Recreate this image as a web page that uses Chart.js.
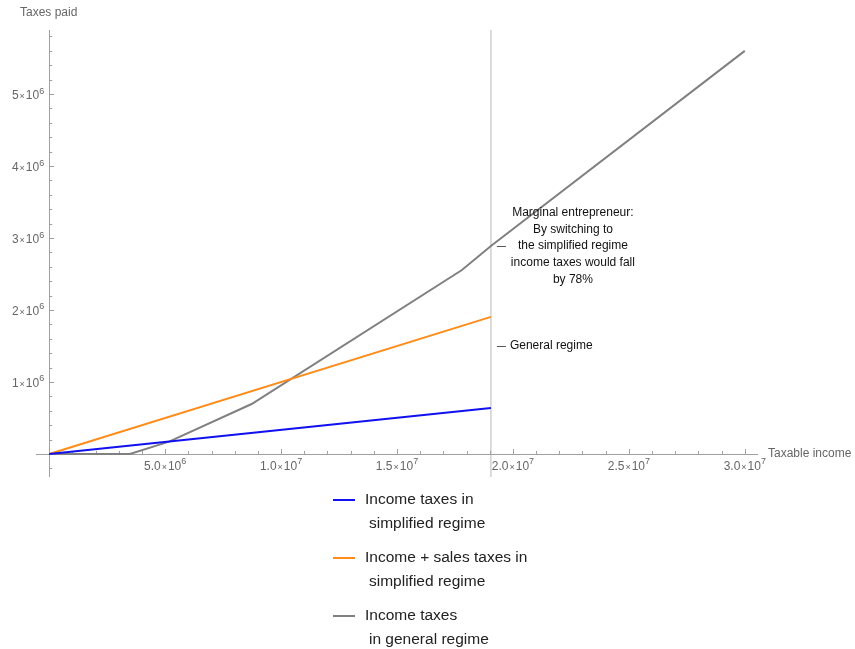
<!DOCTYPE html>
<html>
<head>
<meta charset="utf-8">
<script src="https://cdn.jsdelivr.net/npm/chart.js@4"></script>
<style>
  body { margin: 0; background: #fff; }
  #wrap { position: relative; width: 855px; height: 649px; }
  canvas { position: absolute; left: 0; top: 0; }
  .swatch { position: absolute; width: 22px; height: 0; border-top: 2px solid; }
  .ltext { position: absolute; font: 15.5px "Liberation Sans", Arial, sans-serif; color: #222; line-height: 18px; white-space: nowrap; }
</style>
</head>
<body>
<div id="wrap">
  <canvas id="taxChart" width="855" height="649"></canvas>
  <div id="legend"></div>
</div>
<script>
// income in roubles, taxes in roubles
const simplifiedIncome = [0, 19.05e6];
const simplifiedTax = [0, 0.64e6];

const simplifiedSalesIncome = [0, 19.05e6];
const simplifiedSalesTax = [0, 1.905e6];

const generalIncome = [0, 3.48e6, 5.17e6, 8.73e6, 17.8e6, 19.05e6, 30.0e6];
const generalTax = [0, 0, 0.171e6, 0.694e6, 2.556e6, 2.889e6, 5.6e6];

const marginalIncome = 19.05e6;
const generalRegimeMark = 1.5e6;

const xTickValues = [5e6, 1e7, 1.5e7, 2e7, 2.5e7, 3e7];
const xTickMantissas = ["5.0", "1.0", "1.5", "2.0", "2.5", "3.0"];
const xTickExponents = ["6", "7", "7", "7", "7", "7"];

const yTickValues = [1e6, 2e6, 3e6, 4e6, 5e6];
const yTickMantissas = ["1", "2", "3", "4", "5"];
const yTickExponents = ["6", "6", "6", "6", "6"];

const seriesNames = [
  ["Income taxes in", "simplified regime"],
  ["Income + sales taxes in", "simplified regime"],
  ["Income taxes", "in general regime"]
];
const seriesColors = ["#1010f0", "#ff8c1a", "#808080"];

const noteLines = [
  "Marginal entrepreneur:",
  "By switching to",
  "the simplified regime",
  "income taxes would fall",
  "by 78%"
];

function toPoints(xs, ys) {
  return xs.map((x, i) => ({ x: x, y: ys[i] }));
}

const FONT = '"Liberation Sans", Arial, sans-serif';

function sciWidth(ctx, mant, exp) {
  ctx.font = "12px " + FONT;
  let w = ctx.measureText(mant).width + ctx.measureText("10").width;
  ctx.font = "9px " + FONT;
  w += ctx.measureText("\u00d7").width + 2 + ctx.measureText(exp).width;
  return w;
}

function drawSci(ctx, mant, exp, x, y) {
  // x is left edge, y is middle of the main text
  ctx.textBaseline = "middle";
  ctx.textAlign = "left";
  ctx.font = "12px " + FONT;
  ctx.fillText(mant, x, y);
  x += ctx.measureText(mant).width + 1;
  ctx.font = "9px " + FONT;
  ctx.fillText("\u00d7", x, y + 0.5);
  x += ctx.measureText("\u00d7").width + 1;
  ctx.font = "12px " + FONT;
  ctx.fillText("10", x, y);
  x += ctx.measureText("10").width;
  ctx.font = "9px " + FONT;
  ctx.fillText(exp, x, y - 5);
}

const axesPlugin = {
  id: "mathAxes",
  beforeDatasetsDraw(chart) {
    const ctx = chart.ctx;
    const xs = chart.scales.x;
    const ys = chart.scales.y;
    const area = chart.chartArea;
    const x0 = xs.getPixelForValue(0);
    const y0 = ys.getPixelForValue(0);

    ctx.save();

    // vertical marker line
    const xm = xs.getPixelForValue(marginalIncome);
    ctx.strokeStyle = "#d0d0d0";
    ctx.lineWidth = 1.5;
    ctx.beginPath();
    ctx.moveTo(xm, area.top);
    ctx.lineTo(xm, area.bottom);
    ctx.stroke();

    // axis lines
    ctx.strokeStyle = "#a0a0a0";
    ctx.lineWidth = 1;
    ctx.beginPath();
    ctx.moveTo(area.left, Math.round(y0) + 0.5);
    ctx.lineTo(area.right, Math.round(y0) + 0.5);
    ctx.moveTo(Math.round(x0) + 0.5, area.top);
    ctx.lineTo(Math.round(x0) + 0.5, area.bottom);
    ctx.stroke();

    // x ticks every 1e6
    ctx.beginPath();
    for (let v = 1e6; v <= xs.max; v += 1e6) {
      const px = Math.round(xs.getPixelForValue(v)) + 0.5;
      const major = Math.round(v / 1e6) % 5 === 0;
      ctx.moveTo(px, y0);
      ctx.lineTo(px, y0 - (major ? 5 : 3));
    }
    // y ticks every 2e5
    for (let v = -2e5; v <= ys.max; v += 2e5) {
      if (Math.abs(v) < 1) continue;
      const py = Math.round(ys.getPixelForValue(v)) + 0.5;
      const major = Math.abs(Math.round(v / 2e5)) % 5 === 0;
      ctx.moveTo(x0, py);
      ctx.lineTo(x0 + (major ? 5 : 3), py);
    }
    ctx.stroke();

    // tick labels
    ctx.fillStyle = "#666";
    xTickValues.forEach((v, i) => {
      const px = xs.getPixelForValue(v);
      const w = sciWidth(ctx, xTickMantissas[i], xTickExponents[i]);
      drawSci(ctx, xTickMantissas[i], xTickExponents[i], px - w / 2, y0 + 13);
    });
    yTickValues.forEach((v, i) => {
      const py = ys.getPixelForValue(v);
      const w = sciWidth(ctx, yTickMantissas[i], yTickExponents[i]);
      drawSci(ctx, yTickMantissas[i], yTickExponents[i], x0 - 5 - w, py + 2);
    });

    // axis titles
    ctx.font = "12px " + FONT;
    ctx.textBaseline = "middle";
    ctx.textAlign = "left";
    ctx.fillText("Taxes paid", 20, 13);
    ctx.fillText("Taxable income", area.right + 10, y0);

    ctx.restore();
  },
  afterDatasetsDraw(chart) {
    const ctx = chart.ctx;
    const xs = chart.scales.x;
    const ys = chart.scales.y;
    const xm = xs.getPixelForValue(marginalIncome);
    const yMarg = ys.getPixelForValue(generalTax[5]);
    const yGen = ys.getPixelForValue(generalRegimeMark);

    ctx.save();
    ctx.strokeStyle = "#555";
    ctx.lineWidth = 1;
    ctx.beginPath();
    ctx.moveTo(xm + 6, Math.round(yMarg) + 0.5);
    ctx.lineTo(xm + 15, Math.round(yMarg) + 0.5);
    ctx.moveTo(xm + 6, Math.round(yGen) + 0.5);
    ctx.lineTo(xm + 15, Math.round(yGen) + 0.5);
    ctx.stroke();

    ctx.fillStyle = "#111";
    ctx.font = "12px " + FONT;
    ctx.textBaseline = "middle";
    ctx.textAlign = "left";
    ctx.fillText("General regime", xm + 19, yGen);

    ctx.textAlign = "center";
    noteLines.forEach((line, i) => {
      ctx.fillText(line, xm + 82, yMarg + (i - 2) * 16.6);
    });
    ctx.restore();
  }
};

const ctx = document.getElementById("taxChart");

const taxChart = new Chart(ctx, {
  type: "scatter",
  data: {
    datasets: [
      {
        label: seriesNames[0].join(" "),
        data: toPoints(simplifiedIncome, simplifiedTax),
        borderColor: seriesColors[0]
      },
      {
        label: seriesNames[1].join(" "),
        data: toPoints(simplifiedSalesIncome, simplifiedSalesTax),
        borderColor: seriesColors[1]
      },
      {
        label: seriesNames[2].join(" "),
        data: toPoints(generalIncome, generalTax),
        borderColor: seriesColors[2]
      }
    ].map(ds => Object.assign(ds, {
      showLine: true,
      pointRadius: 0,
      borderWidth: 2,
      tension: 0,
      fill: false
    }))
  },
  options: {
    responsive: false,
    animation: false,
    layout: {
      padding: { left: 36, top: 30, right: 97, bottom: 172 }
    },
    scales: {
      x: { type: "linear", min: -0.57e6, max: 30.57e6, display: false },
      y: { type: "linear", min: -0.32e6, max: 5.89e6, display: false }
    },
    plugins: {
      legend: { display: false },
      tooltip: { enabled: false }
    }
  },
  plugins: [axesPlugin]
});

// legend below the plot
const legend = document.getElementById("legend");
const legendTops = [500, 558, 616];
seriesNames.forEach((lines, i) => {
  const sw = document.createElement("div");
  sw.className = "swatch";
  sw.style.left = "333px";
  sw.style.top = (legendTops[i] - 1) + "px";
  sw.style.borderColor = seriesColors[i];
  legend.appendChild(sw);

  const t1 = document.createElement("div");
  t1.className = "ltext";
  t1.style.left = "365px";
  t1.style.top = (legendTops[i] - 10) + "px";
  t1.textContent = lines[0];
  legend.appendChild(t1);

  const t2 = document.createElement("div");
  t2.className = "ltext";
  t2.style.left = "369px";
  t2.style.top = (legendTops[i] + 14) + "px";
  t2.textContent = lines[1];
  legend.appendChild(t2);
});
</script>
</body>
</html>
